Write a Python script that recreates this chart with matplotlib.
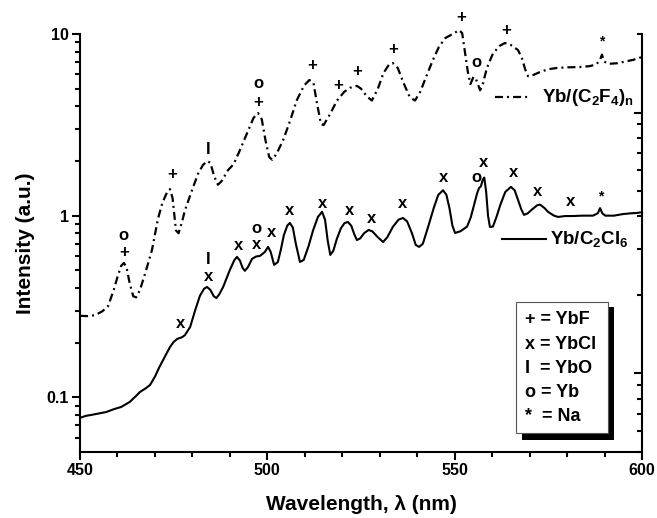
import matplotlib
matplotlib.use('Agg')
import matplotlib.pyplot as plt
from matplotlib.ticker import FixedLocator, MultipleLocator, NullFormatter
from matplotlib.patches import Rectangle

plt.rcParams['font.family'] = ['Liberation Sans', 'DejaVu Sans']
plt.rcParams['font.weight'] = 'bold'
plt.rcParams['mathtext.default'] = 'regular'
plt.rcParams['lines.scale_dashes'] = False

# Yb/(C2F4)n  (curva tracejada-pontilhada)
wl_cf = [450.0, 452.0, 454.0, 456.0, 457.5, 459.0, 460.0, 461.0, 461.7, 462.4, 463.2, 464.2, 465.0,
         466.0, 467.5, 469.2, 470.8, 472.0, 473.2, 474.0, 474.7, 475.6, 476.3, 477.2, 478.0, 480.0,
         481.5, 482.8, 484.0, 484.8, 485.8, 486.8, 487.8, 489.5, 491.0, 492.5, 494.6, 496.3, 497.5,
         498.5, 499.5, 500.5, 501.3, 502.5, 504.2, 506.0, 507.9, 509.8, 511.2, 512.3, 513.2, 514.3,
         515.0, 516.5, 518.6, 520.5, 522.0, 523.9, 525.0, 526.5, 527.9, 529.5, 531.0, 532.5, 533.5,
         534.8, 536.3, 538.0, 539.4, 540.8, 542.5, 544.2, 545.8, 547.5, 549.5, 551.2, 552.0, 552.8,
         553.5, 554.2, 555.0, 555.6, 556.8, 557.5, 558.6, 560.2, 562.0, 563.4, 565.0, 566.9, 568.0,
         568.8, 569.6, 571.0, 572.8, 575.0, 577.3, 580.0, 583.4, 586.0, 587.8, 588.8, 589.3, 589.9,
         591.0, 593.3, 595.5, 597.6, 600.0]
int_cf = [0.281, 0.280, 0.283, 0.298, 0.318, 0.39, 0.46, 0.53, 0.549, 0.52, 0.43, 0.36, 0.355,
          0.39, 0.49, 0.647, 0.96, 1.18, 1.34, 1.40, 1.25, 0.83, 0.80, 0.92, 1.07, 1.40,
          1.70, 1.90, 2.00, 1.95, 1.65, 1.48, 1.55, 1.78, 1.92, 2.25, 2.85, 3.45, 3.67,
          3.40, 2.60, 2.10, 2.03, 2.20, 2.60, 3.30, 4.34, 5.20, 5.58, 5.40, 4.20, 3.20,
          3.15, 3.55, 4.30, 4.80, 5.05, 5.18, 5.00, 4.55, 4.30, 5.00, 6.10, 6.80, 6.92,
          6.50, 5.40, 4.50, 4.30, 4.80, 5.90, 7.20, 8.50, 9.50, 10.0, 10.5, 10.1, 7.8,
          6.2, 5.3, 5.8, 5.7, 4.9, 5.3, 6.5, 7.8, 8.6, 8.92, 8.70, 8.16, 7.30,
          6.40, 5.85, 5.95, 6.18, 6.40, 6.50, 6.55, 6.58, 6.65, 6.80, 7.20, 7.70, 7.05,
          6.85, 6.90, 7.05, 7.20, 7.47]

# Yb/C2Cl6  (curva continua)
wl_cl = [450.0, 451.5, 453.0, 455.0, 457.0, 459.0, 461.0, 463.3, 465.0, 466.0, 467.5, 468.7, 470.0,
         471.2, 472.5, 474.0, 475.0, 476.0, 477.2, 478.0, 479.4, 480.7, 482.0, 483.1, 483.9, 484.8,
         485.7, 486.4, 487.2, 488.2, 490.0, 491.2, 491.9, 492.7, 493.4, 494.0, 494.8, 495.9, 497.0,
         498.0, 499.3, 500.2, 500.9, 501.8, 502.8, 503.6, 504.4, 505.3, 506.0, 506.8, 507.6, 508.7,
         509.7, 511.0, 512.2, 513.5, 514.6, 515.4, 516.1, 516.8, 517.6, 518.5, 519.6, 520.6, 521.5,
         522.4, 523.2, 523.9, 524.8, 525.8, 527.0, 528.0, 529.5, 530.9, 532.0, 533.5, 535.0, 536.2,
         537.3, 538.6, 539.6, 540.5, 541.5, 543.0, 544.4, 545.6, 546.9, 547.8, 548.6, 549.4, 550.1,
         551.5, 553.3, 554.3, 555.2, 556.0, 556.5, 557.0, 557.5, 557.9, 558.4, 558.9, 559.4, 560.2,
         561.2, 562.2, 563.5, 565.0, 566.0, 566.9, 567.8, 568.5, 569.5, 570.6, 572.0, 572.8, 574.0,
         574.9, 576.5, 577.6, 579.5, 581.6, 584.0, 586.9, 588.2, 588.8, 589.4, 590.2, 592.5, 594.9,
         597.0, 598.7, 600.0]
int_cl = [0.0771, 0.0790, 0.0800, 0.0815, 0.0830, 0.0860, 0.0885, 0.0944, 0.102, 0.107, 0.112, 0.117, 0.130,
          0.147, 0.165, 0.189, 0.202, 0.210, 0.214, 0.220, 0.244, 0.300, 0.362, 0.396, 0.405, 0.390,
          0.360, 0.352, 0.370, 0.405, 0.503, 0.570, 0.593, 0.565, 0.515, 0.497, 0.520, 0.578, 0.596,
          0.600, 0.630, 0.673, 0.630, 0.536, 0.555, 0.650, 0.780, 0.880, 0.912, 0.860, 0.700, 0.556,
          0.570, 0.680, 0.830, 0.984, 1.05, 0.95, 0.730, 0.608, 0.640, 0.740, 0.850, 0.910, 0.923,
          0.880, 0.790, 0.734, 0.750, 0.800, 0.834, 0.820, 0.760, 0.716, 0.760, 0.867, 0.950, 0.971,
          0.930, 0.800, 0.690, 0.673, 0.700, 0.880, 1.10, 1.30, 1.38, 1.30, 1.10, 0.880, 0.803,
          0.820, 0.870, 0.980, 1.15, 1.33, 1.42, 1.45, 1.58, 1.62, 1.35, 1.00, 0.867, 0.870,
          0.990, 1.15, 1.35, 1.44, 1.38, 1.22, 1.08, 1.01, 1.03, 1.08, 1.14, 1.15, 1.10,
          1.05, 1.00, 0.984, 0.995, 0.995, 1.00, 1.00, 1.03, 1.10, 1.03, 1.00, 1.00, 1.02,
          1.03, 1.035, 1.045]

# identificacao das bandas
top_marks = ['o', '+', '+', 'I', 'o', '+', '+', '+', '+', '+', '+', 'o', '+', '*']
top_x = [461.7, 461.7, 474.6, 484.2, 497.5, 497.5, 511.9, 518.9, 523.9, 533.5, 551.7, 555.7, 563.7, 589.3]
top_y = [0.78, 0.63, 1.68, 2.30, 5.35, 4.22, 6.67, 5.18, 6.18, 8.17, 12.25, 7.01, 10.4, 9.04]

bot_marks = ['x', 'I', 'x', 'x', 'x', 'o', 'x', 'x', 'x', 'x', 'x', 'x', 'x', 'o', 'x', 'x', 'x', 'x', '*']
bot_x = [476.7, 484.2, 484.4, 492.4, 497.0, 497.2, 501.0, 506.0, 514.6, 521.8, 527.7, 536.2, 546.9,
         555.7, 557.6, 565.8, 572.2, 581.0, 589.0]
bot_y = [0.254, 0.575, 0.462, 0.681, 0.695, 0.845, 0.803, 1.07, 1.17, 1.07, 0.959, 1.16, 1.63,
         1.63, 1.95, 1.72, 1.35, 1.19, 1.28]

chave = ['+ = YbF', 'x = YbCl', 'I  = YbO', 'o = Yb', '*  = Na']

dashdot = (0, (5.8, 2.9, 1.4, 2.9))

fig = plt.figure(figsize=(6.57, 5.18), dpi=100)
ax = fig.add_axes([0.1218, 0.1274, 0.8554, 0.8070])

ax.plot(wl_cf, int_cf, color='black', lw=1.6, linestyle=dashdot, dash_capstyle='butt', clip_on=False)
ax.plot(wl_cl, int_cl, color='black', lw=1.5, clip_on=False)

for m, x, y in zip(top_marks + bot_marks, top_x + bot_x, top_y + bot_y):
    ax.text(x, y, m, ha='center', va='center', fontsize=10 if m == '*' else 12,
            fontweight='bold', clip_on=False)

ax.set_xlim(450, 600)
ax.set_yscale('log')
ax.set_ylim(0.05, 10)
ax.set_xticks([450, 500, 550, 600])
ax.xaxis.set_minor_locator(MultipleLocator(10))
ax.yaxis.set_major_locator(FixedLocator([0.1, 1, 10]))
ax.set_yticklabels(['0.1', '1', '10'])
ax.yaxis.set_minor_locator(FixedLocator([0.06, 0.07, 0.08, 0.09] + [k / 10 for k in range(2, 10)]
                                        + list(range(2, 10))))
ax.yaxis.set_minor_formatter(NullFormatter())
ax.tick_params(which='major', direction='out', length=6, width=1.5, labelsize=11.5, pad=2,
               top=False, right=False)
ax.tick_params(which='minor', direction='out', length=3.5, width=1.5, top=False, right=False)
for s in ['top', 'right']:
    ax.spines[s].set_visible(False)
for s in ['left', 'bottom']:
    ax.spines[s].set_linewidth(1.5)

ax.set_xlabel('Wavelength, λ (nm)', fontsize=15, fontweight='bold', labelpad=12)
ax.set_ylabel('Intensity (a.u.)', fontsize=15, fontweight='bold', labelpad=8)

# eixo da direita (escala propria do Origin)
ax2 = ax.twinx()
ax2.set_yscale('log')
ax2.set_ylim(0.5, 20)
ax2.yaxis.set_major_locator(FixedLocator([1, 10]))
ax2.yaxis.set_minor_locator(FixedLocator([0.5, 0.6, 0.7, 0.8, 0.9] + list(range(2, 10)) + [20]))
ax2.yaxis.set_major_formatter(NullFormatter())
ax2.yaxis.set_minor_formatter(NullFormatter())
ax2.tick_params(which='major', direction='in', length=6, width=1.5)
ax2.tick_params(which='minor', direction='in', length=3.5, width=1.5)
for s in ['top', 'left', 'bottom']:
    ax2.spines[s].set_visible(False)
ax2.spines['right'].set_linewidth(1.5)

# legendas das curvas
ax.plot([0.738, 0.801], [0.849, 0.849], transform=ax.transAxes, color='black', lw=1.6,
        linestyle=dashdot, dash_capstyle='butt')
ax.text(0.822, 0.849, 'Yb/(C$_2$F$_4$)$_n$', transform=ax.transAxes, fontsize=13.5,
        fontweight='bold', va='center', ha='left')
ax.plot([0.750, 0.830], [0.510, 0.510], transform=ax.transAxes, color='black', lw=1.5)
ax.text(0.836, 0.510, 'Yb/C$_2$Cl$_6$', transform=ax.transAxes, fontsize=13.5,
        fontweight='bold', va='center', ha='left')

# caixa com a chave dos simbolos
ax.add_patch(Rectangle((0.786, 0.0287), 0.164, 0.318, transform=ax.transAxes,
                       facecolor='black', edgecolor='none', zorder=5))
ax.add_patch(Rectangle((0.776, 0.0455), 0.164, 0.3135, transform=ax.transAxes,
                       facecolor='white', edgecolor='#555555', lw=0.8, zorder=6))
for i, t in enumerate(chave):
    ax.text(0.792, 0.316 - i * 0.058, t, transform=ax.transAxes, fontsize=13,
            fontweight='bold', va='center', ha='left', zorder=7)

fig.savefig('out.png', dpi=100)
